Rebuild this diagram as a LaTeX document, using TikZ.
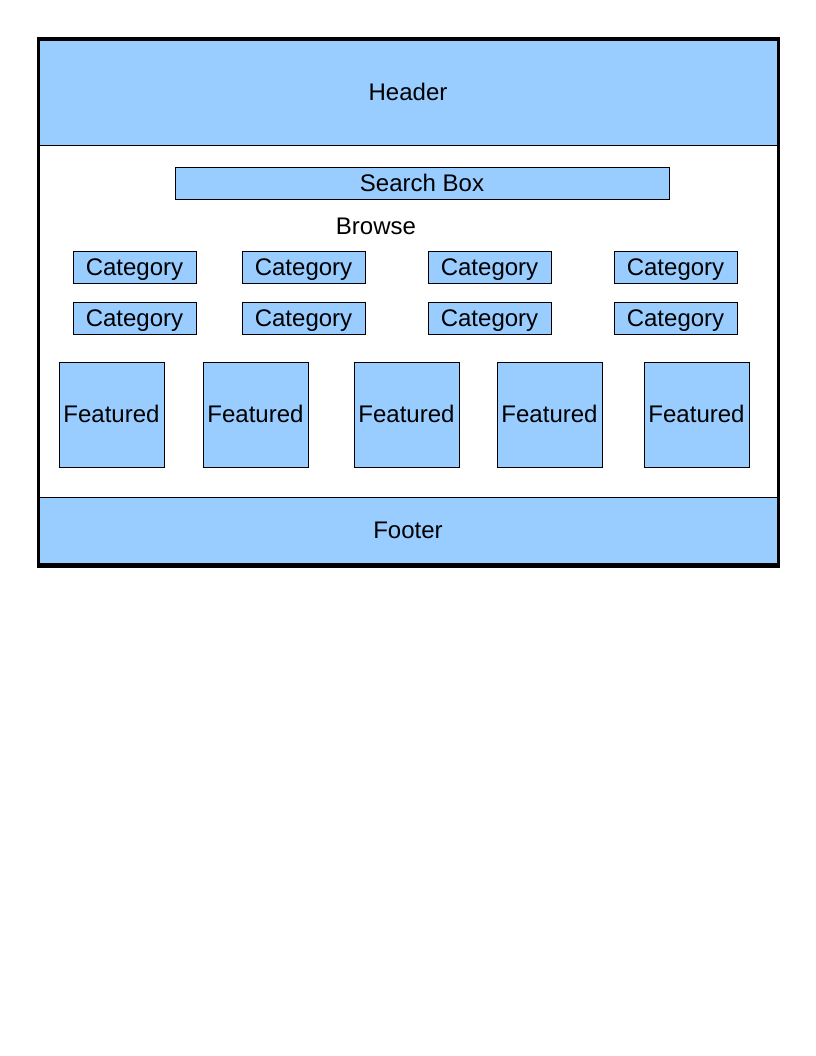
\documentclass[tikz,border=0pt]{standalone}
\usepackage{fontspec}
\setmainfont{Liberation Sans}
\definecolor{boxblue}{HTML}{99CCFF}
\tikzset{
  px/.style={x=0.75pt,y=-0.75pt},
  blockbox/.style={draw=black,fill=boxblue,line width=0.75pt,inner sep=0pt,
    text height=16pt,text depth=4pt,font=\fontsize{18}{20}\selectfont},
  catbox/.style={blockbox,minimum width=92.25pt,minimum height=24pt},
  featbox/.style={blockbox,minimum width=78.75pt,minimum height=78.75pt},
  label/.style={font=\fontsize{18}{20}\selectfont,inner sep=0pt}
}

\begin{document}
\begin{tikzpicture}[px]
		%%%%% START %%%%%
		\useasboundingbox (0,0) rectangle (816,1056);
		
		% header and footer bands
		\fill[boxblue] (40,40) rectangle (777,145);
		\draw[line width=0.75pt] (40,145) -- (777,145);
		\node[label] (header) at (408,92) {Header};
		
		\fill[boxblue] (40,497) rectangle (777,563);
		\draw[line width=0.75pt] (40,497) -- (777,497);
		\draw[line width=0.75pt] (40,563) -- (777,563);
		\node[label] (footer) at (408,530) {Footer};
		
		% search and browse
		\node[blockbox,minimum width=370.5pt,minimum height=24pt] (search) at (422,183) {Search Box};
		\node[label] (browse) at (376,226.5) {Browse};
		
		% categories
		\foreach \cx [count=\i] in {134.5,303.5,489.5,675.5} {
			\node[catbox] (cata\i) at (\cx,267) {Category};
			\node[catbox] (catb\i) at (\cx,318) {Category};
		}
		
		% featured items
		\foreach \fx [count=\i] in {111.5,255.5,406.5,549.5,696.5} {
			\node[featbox] (feat\i) at (\fx,414.5) {Featured};
		}
		
		% page frame
		\draw[line width=2.5pt] (38.5,39) rectangle (778.5,566);
		
		%%%%% END %%%%%
	\end{tikzpicture}
\end{document}
